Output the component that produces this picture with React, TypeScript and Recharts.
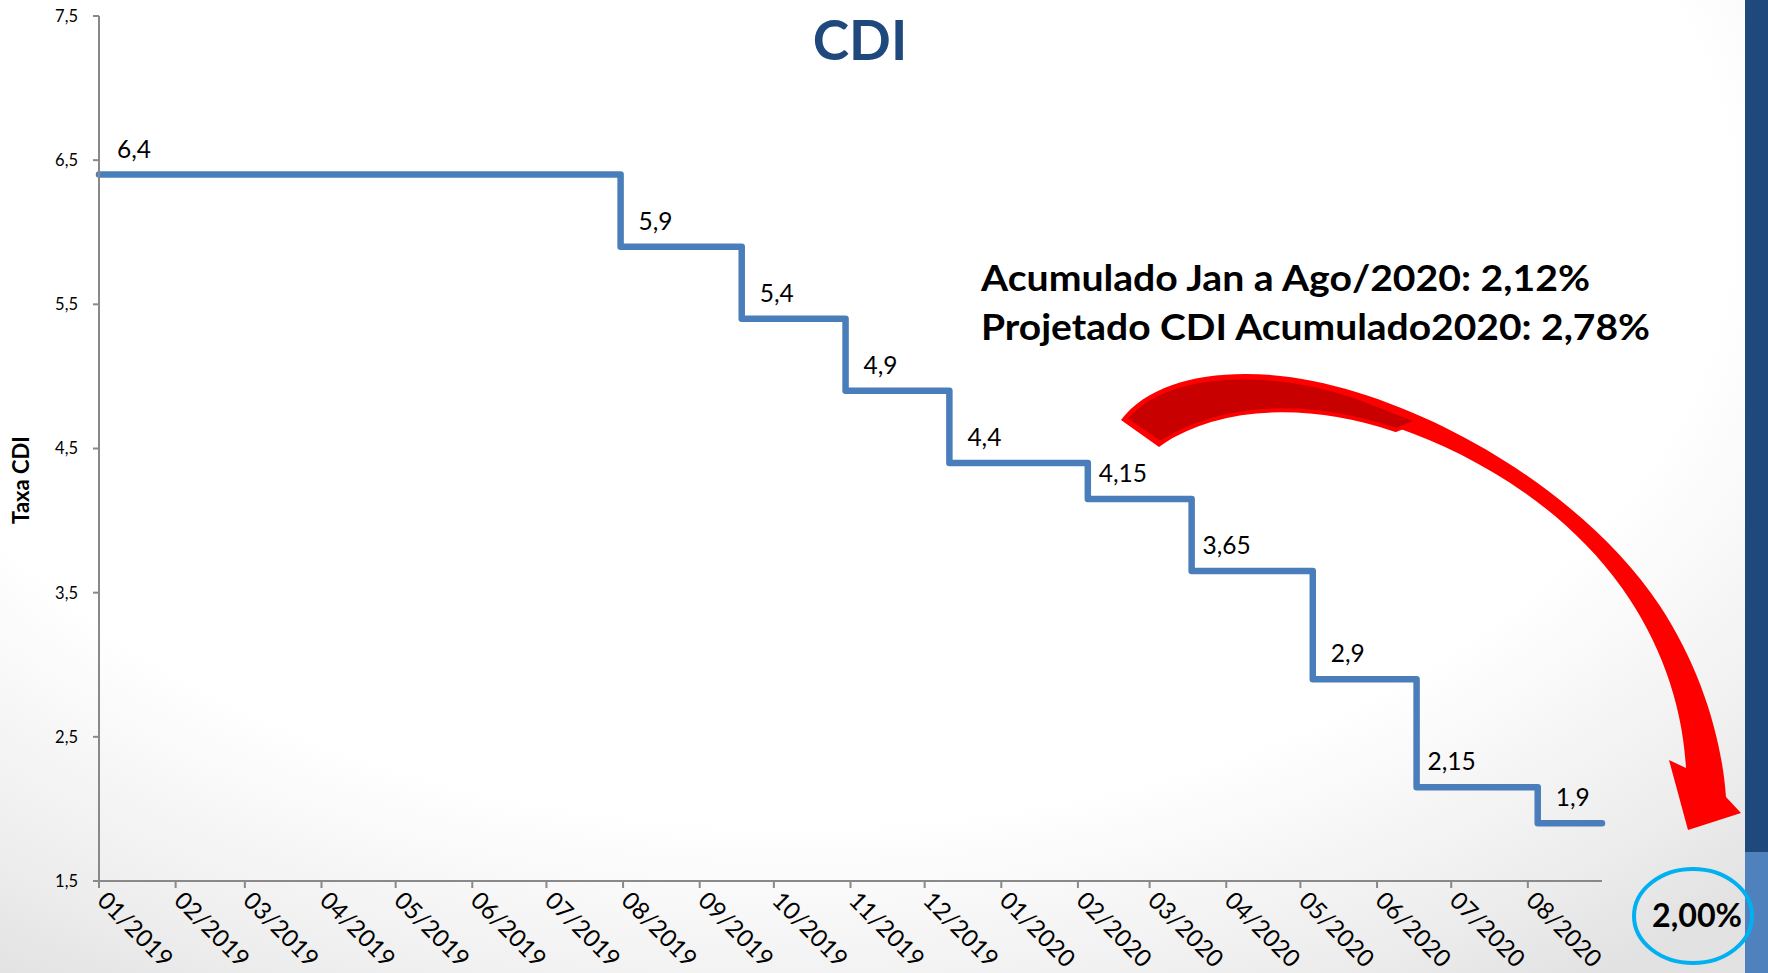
import React from 'react';
import { LineChart, Line, XAxis, YAxis, LabelList } from 'recharts';

// mudanças de patamar do CDI (datas das reuniões do Copom) + último dia exibido
const changeDates = [
  '2019-01-01', '2019-07-31', '2019-09-18', '2019-10-30', '2019-12-11', '2020-02-05',
  '2020-03-18', '2020-05-06', '2020-06-17', '2020-08-05', '2020-08-31',
];
const cdiRates = [6.4, 5.9, 5.4, 4.9, 4.4, 4.15, 3.65, 2.9, 2.15, 1.9, 1.9];

const monthLabels = [
  '01/2019', '02/2019', '03/2019', '04/2019', '05/2019', '06/2019', '07/2019', '08/2019',
  '09/2019', '10/2019', '11/2019', '12/2019', '01/2020', '02/2020', '03/2020', '04/2020',
  '05/2020', '06/2020', '07/2020', '08/2020',
];
const rateTicks = [1.5, 2.5, 3.5, 4.5, 5.5, 6.5, 7.5];

const noteLines = ['Acumulado Jan a Ago/2020: 2,12%', 'Projetado CDI Acumulado2020: 2,78%'];
const projectedEnd = '2,00%';

const FONT = 'Lato, "Open Sans", sans-serif';
const AXIS_GRAY = '#898989';

const toTime = (iso: string) => Date.parse(iso + 'T00:00:00Z');
const monthToTime = (s: string) => {
  const [m, y] = s.split('/');
  return Date.UTC(Number(y), Number(m) - 1, 1);
};
const fmtMonth = (t: number) => {
  const d = new Date(t);
  return `${String(d.getUTCMonth() + 1).padStart(2, '0')}/${d.getUTCFullYear()}`;
};
const fmtRate = (v: number) => String(v).replace('.', ',');

const data = changeDates.map((d, i) => ({
  t: toTime(d),
  v: cdiRates[i],
  // sem rótulo no ponto final (só fecha o último degrau)
  label: i < changeDates.length - 1 ? cdiRates[i] : null,
}));
const monthTicks = monthLabels.map(monthToTime);

const MonthTick = (props: any) => {
  const { x, y, payload } = props;
  const ax = x - 3;
  const ay = y + 12;
  return (
    <text x={ax} y={ay} transform={`rotate(45 ${ax} ${ay})`} fontFamily={FONT} fontSize={24} fill="#000">
      {fmtMonth(payload.value)}
    </text>
  );
};

const RateLabel = (props: any) => {
  const { value } = props;
  if (value == null) return null;
  const vb = props.viewBox || {};
  const px = props.x ?? vb.x;
  const py = props.y ?? vb.y;
  return (
    <text x={px + 35} y={py - 17} textAnchor="middle" fontFamily={FONT} fontSize={24.5} fill="#000">
      {fmtRate(value)}
    </text>
  );
};

const AxisTitle = (props: any) => {
  const vb = props.viewBox || { x: 0 };
  const cx = vb.x + 20;
  const cy = 480;
  return (
    <text x={cx} y={cy} transform={`rotate(-90 ${cx} ${cy})`} textAnchor="middle" dominantBaseline="central"
      fontFamily={FONT} fontWeight={700} fontSize={22} fill="#000">
      Taxa CDI
    </text>
  );
};

function Decorations() {
  return (
    <svg width={1768} height={973} style={{ position: 'absolute', left: 0, top: 0, pointerEvents: 'none' }}>
      {/* faixa lateral do slide */}
      <rect x={1745} y={0} width={23} height={852} fill="#1F497D" />
      <rect x={1745} y={852} width={23} height={121} fill="#4F81BD" />

      <text x={860} y={60} textAnchor="middle" fontFamily={FONT} fontWeight={700} fontSize={55} fill="#1F497D">
        CDI
      </text>

      <text x={981} y={291} fontFamily={FONT} fontWeight={700} fontSize={37} fill="#000"
        textLength={609} lengthAdjust="spacingAndGlyphs">
        {noteLines[0]}
      </text>
      <text x={981} y={340} fontFamily={FONT} fontWeight={700} fontSize={37} fill="#000"
        textLength={669} lengthAdjust="spacingAndGlyphs">
        {noteLines[1]}
      </text>

      {/* seta curva vermelha */}
      <path
        d="M 1121 420 C 1160 368, 1262 362, 1356 392 C 1480 430, 1600 515, 1660 606 C 1702 670, 1722 740, 1726 797
           L 1741 813 L 1688 830 L 1669 760 L 1686 768
           C 1682 702, 1660 642, 1622 588 C 1562 504, 1472 454, 1398 428 C 1328 404, 1232 392, 1159 447 Z"
        fill="#FF0000"
      />
      <path
        d="M 1125 419 C 1162 372, 1262 366, 1354 396 L 1418 421 L 1396 430 C 1328 407, 1234 396, 1160 443 Z"
        fill="#C80000" stroke="#FF0000" strokeWidth={4} strokeLinejoin="round"
      />

      <ellipse cx={1693} cy={916} rx={59} ry={47} fill="none" stroke="#00B0F0" strokeWidth={4} />
      <text x={1697} y={927} textAnchor="middle" fontFamily={FONT} fontWeight={700} fontSize={33} fill="#000"
        textLength={90} lengthAdjust="spacingAndGlyphs">
        {projectedEnd}
      </text>
    </svg>
  );
}

export default function App() {
  return (
    <div
      style={{
        position: 'absolute',
        left: 0,
        top: 0,
        width: 1768,
        height: 973,
        overflow: 'hidden',
        background: 'radial-gradient(ellipse 80% 95% at 45% 22%, #ffffff 66%, #eeeeee 88%, #e2e2e2 100%)',
      }}
    >
      <LineChart width={1768} height={973} data={data} margin={{ top: 16, right: 166, bottom: 0, left: 0 }}>
        <XAxis
          dataKey="t"
          type="number"
          scale="linear"
          domain={[data[0].t, data[data.length - 1].t]}
          ticks={monthTicks}
          interval={0}
          height={92}
          tick={<MonthTick />}
          tickSize={7}
          axisLine={{ stroke: AXIS_GRAY, strokeWidth: 2 }}
          tickLine={{ stroke: AXIS_GRAY, strokeWidth: 2 }}
        />
        <YAxis
          type="number"
          domain={[1.5, 7.5]}
          ticks={rateTicks}
          interval={0}
          width={99}
          tickSize={6}
          tickMargin={15}
          tickFormatter={fmtRate}
          tick={{ fontFamily: FONT, fontSize: 16.5, fill: '#000' }}
          axisLine={{ stroke: AXIS_GRAY, strokeWidth: 2 }}
          tickLine={{ stroke: AXIS_GRAY, strokeWidth: 2 }}
          label={<AxisTitle />}
        />
        <Line
          type="stepAfter"
          dataKey="v"
          stroke="#4A7EBB"
          strokeWidth={6.5}
          strokeLinejoin="round"
          strokeLinecap="round"
          dot={false}
          isAnimationActive={false}
        >
          <LabelList dataKey="label" content={<RateLabel />} />
        </Line>
      </LineChart>
      <Decorations />
    </div>
  );
}
